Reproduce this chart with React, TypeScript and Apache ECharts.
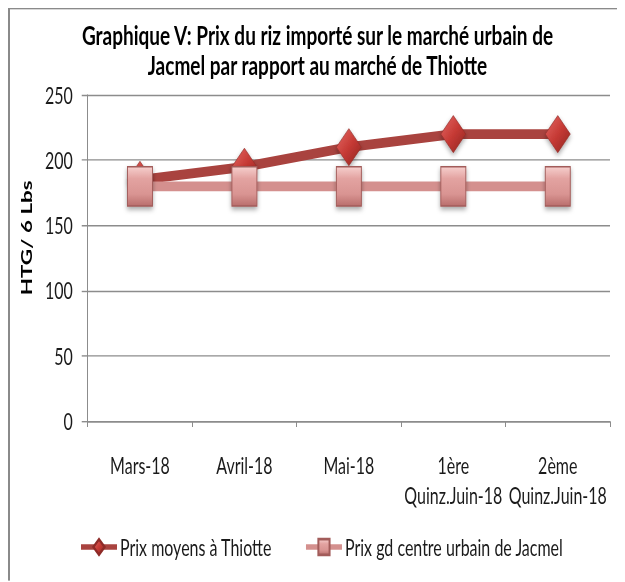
import React, { useEffect, useRef } from 'react';
import * as echarts from 'echarts';

const categories = ['Mars-18', 'Avril-18', 'Mai-18', '1ère\nQuinz.Juin-18', '2ème\nQuinz.Juin-18'];
const thiotte = [185, 195, 210, 220, 220];
const jacmel = [180, 180, 180, 180, 180];
const yMin = 0;
const yMax = 250;
const yInterval = 50;
const seriesNames = ['Prix moyens à Thiotte', 'Prix gd centre urbain de Jacmel'];
const titleLines = [
  'Graphique V: Prix du riz importé sur le marché urbain de',
  'Jacmel par rapport au marché de Thiotte',
];
const yAxisName = 'HTG/ 6 Lbs';

const STRETCH = 1.4;
const W = 615;
const H = 408;
const FONT = 'Lato, "Liberation Sans", sans-serif';
const GRID = '#8c8c8c';

export default function App() {
  const ref = useRef<HTMLDivElement>(null);
  useEffect(() => {
    const chart = echarts.init(ref.current!, null, { renderer: 'svg', width: W, height: H });
    const diamondFill = new echarts.graphic.LinearGradient(0, 0, 1, 1, [
      { offset: 0, color: '#E46A66' },
      { offset: 0.5, color: '#C63A35' },
      { offset: 1, color: '#8E2420' },
    ]);
    const rectFill = new echarts.graphic.LinearGradient(0, 0, 0, 1, [
      { offset: 0, color: '#F6CFCD' },
      { offset: 0.3, color: '#E3A3A1' },
      { offset: 0.7, color: '#D99492' },
      { offset: 1, color: '#B96E6C' },
    ]);
    chart.setOption({
      animation: false,
      backgroundColor: '#ffffff',
      title: {
        text: titleLines.join('\n'),
        left: 'center',
        top: 7,
        padding: 0,
        textStyle: {
          fontFamily: FONT,
          fontSize: 19,
          fontWeight: 'bold',
          lineHeight: 21.5,
          color: '#000',
        },
      },
      legend: {
        data: seriesNames,
        left: 69,
        top: 376,
        padding: 0,
        itemWidth: 36,
        itemHeight: 14,
        itemGap: 32,
        lineStyle: { width: 4 },
        textStyle: { fontFamily: FONT, fontSize: 16, color: '#1a1a1a', padding: [0, 0, 0, -2] },
      },
      grid: { left: 73.4, right: 15, top: 61.1, bottom: 113.7, containLabel: false },
      xAxis: {
        type: 'category',
        data: categories,
        boundaryGap: true,
        axisLine: { lineStyle: { color: GRID, width: 1 } },
        axisTick: { show: true, length: 4, lineStyle: { color: GRID } },
        axisLabel: {
          interval: 0,
          margin: 21,
          lineHeight: 21,
          fontFamily: FONT,
          fontSize: 16,
          color: '#1a1a1a',
        },
      },
      yAxis: {
        type: 'value',
        min: yMin,
        max: yMax,
        interval: yInterval,
        name: yAxisName,
        nameLocation: 'middle',
        nameGap: 50,
        nameTextStyle: {
          fontFamily: FONT,
          fontSize: 16,
          fontWeight: 'bold',
          lineHeight: 16,
          color: '#000',
          padding: [0, 0, 0, 29],
        },
        axisLine: { show: true, lineStyle: { color: GRID, width: 1 } },
        axisTick: { show: true, length: 6, lineStyle: { color: GRID } },
        splitLine: { show: true, lineStyle: { color: GRID, width: 1 } },
        axisLabel: { margin: 15, fontFamily: FONT, fontSize: 16, color: '#1a1a1a' },
      },
      series: [
        {
          name: seriesNames[0],
          type: 'line',
          data: thiotte,
          symbol: 'diamond',
          symbolSize: [25, 26.5],
          z: 2,
          lineStyle: { color: '#A9433F', width: 7 },
          itemStyle: {
            color: diamondFill,
            borderColor: '#8E2B28',
            borderWidth: 0.5,
            shadowColor: 'rgba(0,0,0,0.35)',
            shadowBlur: 4,
            shadowOffsetY: 2,
          },
          emphasis: { disabled: true },
        },
        {
          name: seriesNames[1],
          type: 'line',
          data: jacmel,
          symbol: 'rect',
          symbolSize: [25, 28],
          z: 3,
          lineStyle: { color: '#D4908E', width: 7 },
          itemStyle: {
            color: rectFill,
            borderColor: '#A25C5A',
            borderWidth: 1,
            shadowColor: 'rgba(0,0,0,0.35)',
            shadowBlur: 4,
            shadowOffsetY: 2,
          },
          emphasis: { disabled: true },
        },
      ],
    });
    return () => chart.dispose();
  }, []);
  return (
    <div style={{ width: W + 2, height: Math.ceil((H + 1.5) * STRETCH), overflow: 'hidden' }}>
      <div
        style={{
          width: W,
          height: H,
          borderLeft: '2px solid #8a8a8a',
          borderTop: '1.5px solid #8a8a8a',
          transform: `scaleY(${STRETCH})`,
          transformOrigin: '0 0',
          background: '#fff',
        }}
      >
        <div ref={ref} style={{ width: W, height: H }} />
      </div>
    </div>
  );
}
